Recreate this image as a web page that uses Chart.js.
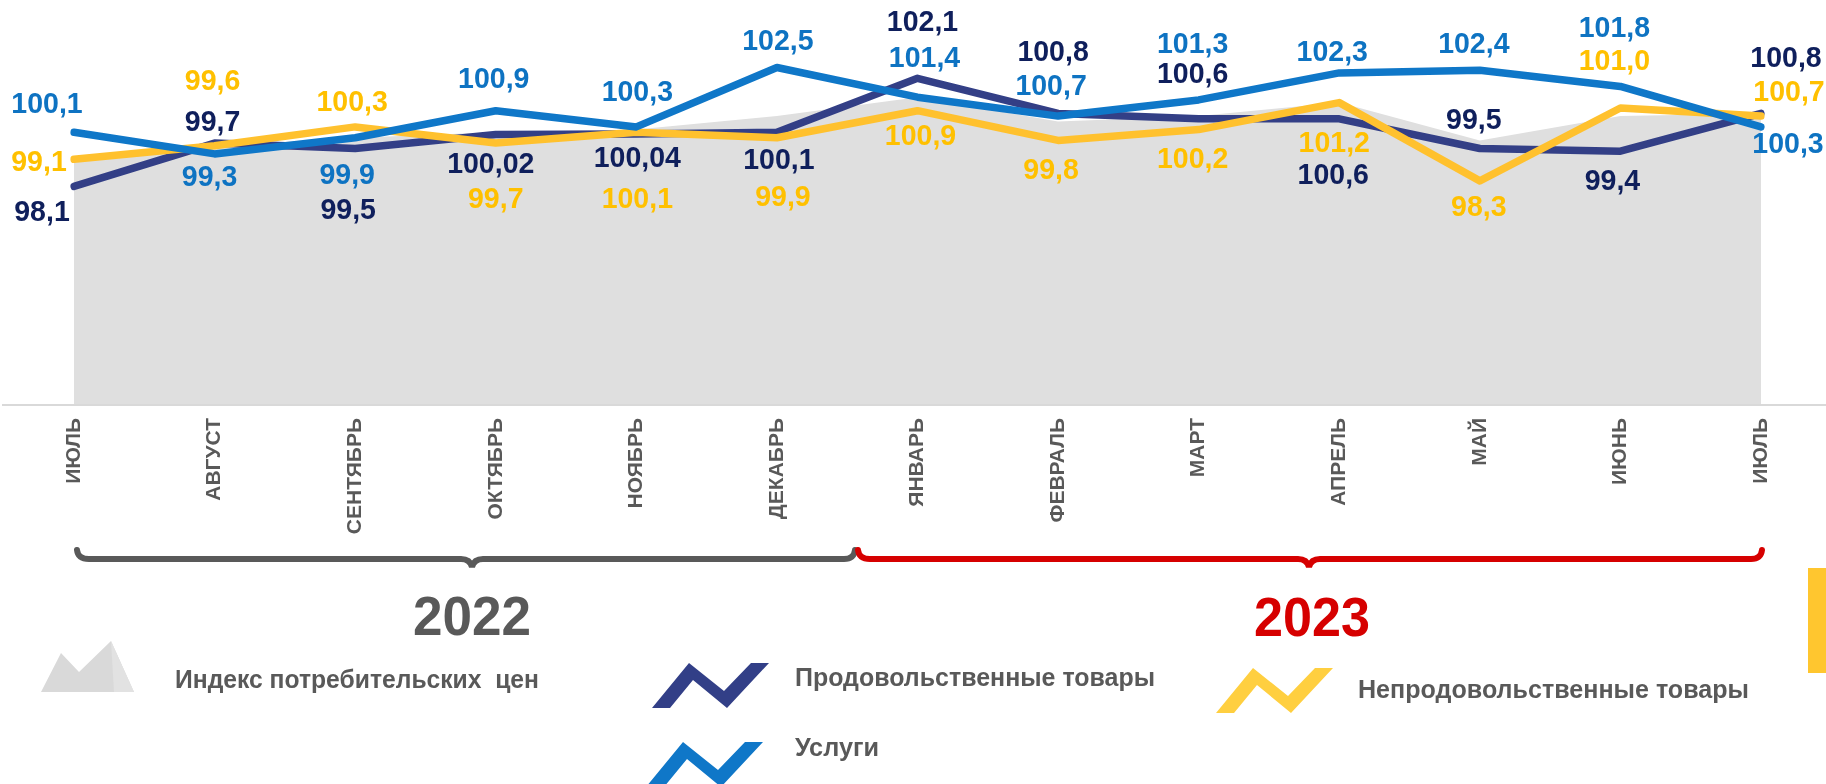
<!DOCTYPE html>
<html>
<head>
<meta charset="utf-8">
<script src="https://cdn.jsdelivr.net/npm/chart.js@4.4.0/dist/chart.umd.min.js"></script>
<style>
html,body{margin:0;padding:0;background:#fff;width:1826px;height:784px;overflow:hidden;}
#wrap{position:relative;width:1826px;height:784px;}
#c{position:absolute;left:0;top:0;}
.t{position:absolute;white-space:pre;line-height:1;font-weight:bold;transform-origin:0 0;}
.leg{font-family:"Liberation Sans Narrow","Liberation Sans",Arial,sans-serif;font-size:26px;color:#595959;}
.yr{font-family:"Liberation Sans Narrow","Liberation Sans",Arial,sans-serif;font-size:56px;}
svg{position:absolute;left:0;top:0;}
</style>
</head>
<body>
<div id="wrap">
<canvas id="c" width="1826" height="784"></canvas>
<svg width="1826" height="784" viewBox="0 0 1826 784">
  <!-- braces -->
  <path d="M77,550 Q78,559 89,559 L461,559 Q470,559 472,567 Q474,559 483,559 L844,559 Q854,559 855,550" fill="none" stroke="#595959" stroke-width="6" stroke-linecap="round"/>
  <path d="M858,550 Q859,559 870,559 L1298,559 Q1307,559 1309,567 Q1311,559 1320,559 L1751,559 Q1761,559 1762,550" fill="none" stroke="#D60000" stroke-width="6" stroke-linecap="round"/>
  <!-- legend icons -->
  <polygon points="41,692 61,653 79,672 111,641 134,692" fill="#D9D9D9"/>
  <polygon points="111,641 134,692 114,692" fill="#E2E2E2"/>
  <polygon points="652,708 689,663 724,691 751,663 769,663 727,708 693,680 670,708" fill="#323F87"/>
  <polygon points="646,787 683,742 718,770 745,742 763,742 721,787 687,759 664,787" fill="#0F77C8"/>
  <polygon points="1216,713 1253,668 1288,696 1315,668 1333,668 1291,713 1257,685 1234,713" fill="#FFCF40"/>
  <rect x="1808" y="568" width="18" height="105" fill="#FFC62F"/>
</svg>
<div class="t yr" data-w="118" style="left:413px;top:588px;color:#595959">2022</div>
<div class="t yr" data-w="116" style="left:1254px;top:589px;color:#D60000">2023</div>
<div class="t leg" data-w="364" style="left:175px;top:666px">Индекс потребительских  цен</div>
<div class="t leg" data-w="360" style="left:795px;top:664px">Продовольственные товары</div>
<div class="t leg" data-w="84" style="left:795px;top:734px">Услуги</div>
<div class="t leg" data-w="391" style="left:1358px;top:676px">Непродовольственные товары</div>
</div>
<script>
// ---- data ----
const months = ['ИЮЛЬ','АВГУСТ','СЕНТЯБРЬ','ОКТЯБРЬ','НОЯБРЬ','ДЕКАБРЬ','ЯНВАРЬ','ФЕВРАЛЬ','МАРТ','АПРЕЛЬ','МАЙ','ИЮНЬ','ИЮЛЬ'];
const cpi      = [99.1, 99.6, 99.9, 100.1, 100.2, 100.7, 101.4, 100.5, 100.7, 101.2, 99.8, 100.7, 100.8];
const food     = [98.1, 99.7, 99.5, 100.02, 100.04, 100.1, 102.1, 100.8, 100.6, 100.6, 99.5, 99.4, 100.8];
const nonFood  = [99.1, 99.6, 100.3, 99.7, 100.1, 99.9, 100.9, 99.8, 100.2, 101.2, 98.3, 101.0, 100.7];
const services = [100.1, 99.3, 99.9, 100.9, 100.3, 102.5, 101.4, 100.7, 101.3, 102.3, 102.4, 101.8, 100.3];

// ---- label placement (style: pixel offsets of value labels from their point) ----
const servicesLabelOffsets = [[-27,-28],[-5,24],[-8,38],[-2,-31],[1,-34],[1,-26],[7,-38],[-7,-29],[-6,-55],[-7,-20],[-6,-25],[-6,-58],[27,18]];
const foodLabelOffsets     = [[-32,26],[-2,-20],[-7,62],[-5,30],[1,25],[2,28],[5,-56],[-5,-61],[-6,-44],[-6,57],[-6,-28],[-8,31],[25,-55]];
const nonFoodLabelOffsets  = [[-35,3],[-2,-64],[-3,-24],[0,57],[1,67],[6,60],[3,26],[-7,30],[-6,30],[-5,41],[-1,27],[-6,-46],[28,-23]];

function fmt(v){
  let s = (Math.round(v*100)/100).toString();
  if (s.indexOf('.') < 0) s += '.0';
  return s.replace('.', ',');
}

const valueLabels = {
  id: 'valueLabels',
  afterDatasetsDraw(chart){
    const ctx = chart.ctx;
    chart.data.datasets.forEach((ds, di) => {
      if (!ds.labelOffsets) return;
      const meta = chart.getDatasetMeta(di);
      meta.data.forEach((pt, i) => {
        const o = ds.labelOffsets[i];
        ctx.save();
        ctx.translate(pt.x + o[0], pt.y + o[1]);
        ctx.scale(0.95, 1);
        ctx.font = 'bold 30px "Liberation Sans", Arial, sans-serif';
        ctx.fillStyle = ds.labelColor;
        ctx.textAlign = 'center';
        ctx.textBaseline = 'middle';
        ctx.fillText(fmt(ds.data[i]), 0, 0);
        ctx.restore();
      });
    });
  }
};

const axisLine = {
  id: 'axisLine',
  afterDatasetsDraw(chart){
    const ctx = chart.ctx, y = chart.chartArea.bottom;
    ctx.save();
    ctx.strokeStyle = '#D9D9D9';
    ctx.lineWidth = 2;
    ctx.beginPath();
    ctx.moveTo(2, y);
    ctx.lineTo(chart.width, y);
    ctx.stroke();
    ctx.restore();
  }
};

const lineCommon = {
  fill: false, pointRadius: 0, borderWidth: 7.5, tension: 0,
  borderCapStyle: 'round', borderJoinStyle: 'round'
};

new Chart(document.getElementById('c'), {
  type: 'line',
  data: {
    labels: months,
    datasets: [
      { label: 'Индекс потребительских цен', data: cpi, fill: 'start', backgroundColor: '#DFDFDF',
        borderWidth: 0, pointRadius: 0, tension: 0, order: 4 },
      Object.assign({ label: 'Продовольственные товары', data: food, borderColor: '#333F86', order: 3,
        labelOffsets: foodLabelOffsets, labelColor: '#0F1F5C' }, lineCommon),
      Object.assign({ label: 'Непродовольственные товары', data: nonFood, borderColor: '#FFC12E', order: 2,
        labelOffsets: nonFoodLabelOffsets, labelColor: '#FFC000' }, lineCommon),
      Object.assign({ label: 'Услуги', data: services, borderColor: '#0F77C8', order: 1,
        labelOffsets: servicesLabelOffsets, labelColor: '#0E73C2' }, lineCommon)
    ]
  },
  options: {
    responsive: false,
    animation: false,
    devicePixelRatio: 1,
    layout: { padding: { left: 74, right: 65, top: 0, bottom: 0 } },
    plugins: { legend: { display: false }, tooltip: { enabled: false } },
    scales: {
      x: {
        type: 'category',
        offset: false,
        grid: { display: false, drawTicks: false },
        border: { display: false },
        ticks: {
          autoSkip: false, maxRotation: 90, minRotation: 90, padding: 13,
          color: '#595959',
          font: { family: '"Liberation Sans", Arial, sans-serif', size: 21, weight: 'bold' }
        },
        afterFit(scale){ scale.height = 379; }
      },
      y: { display: false, min: 90, max: 105 }
    }
  },
  plugins: [axisLine, valueLabels]
});

document.querySelectorAll('[data-w]').forEach(el => {
  const w = el.getBoundingClientRect().width;
  el.style.transform = 'scaleX(' + (parseFloat(el.dataset.w) / w) + ')';
});
</script>
</body>
</html>
